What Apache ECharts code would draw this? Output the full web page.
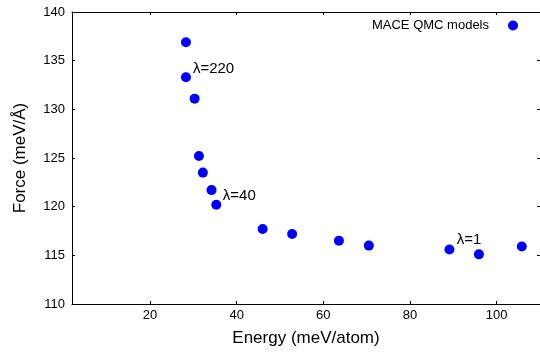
<!DOCTYPE html>
<html>
<head>
<meta charset="utf-8">
<script src="https://cdn.jsdelivr.net/npm/echarts@6/dist/echarts.min.js"></script>
<style>
  html, body { margin: 0; padding: 0; background: #fff; }
  #main { width: 540px; height: 352px; }
</style>
</head>
<body>
<div id="main"></div>
<script>
// energy (meV/atom) and force (meV/Å)
var energy = [28.3, 28.3, 30.3, 31.3, 32.2, 34.2, 35.3, 46.0, 52.8, 63.6, 70.5, 89.1, 95.9, 105.8];
var force  = [136.9, 133.3, 131.1, 125.2, 123.5, 121.7, 120.2, 117.7, 117.2, 116.5, 116.0, 115.6, 115.1, 115.9];

var xTicks = [20, 40, 60, 80, 100];
var yTicks = [110, 115, 120, 125, 130, 135, 140];

// annotations
var annotText = ['λ=220', 'λ=40', 'λ=1'];
var annotX = [29.9, 36.8, 90.8];
var annotY = [134.2, 121.15, 116.56];

var font = '"Liberation Sans", Arial, Helvetica, sans-serif';

var chartDom = document.getElementById('main');
var myChart = echarts.init(chartDom);

var pts = [];
for (var i = 0; i < energy.length; i++) {
  pts.push([energy[i], force[i]]);
}
var labels = [];
for (var j = 0; j < annotText.length; j++) {
  labels.push({ value: [annotX[j], annotY[j]], name: annotText[j] });
}

var tickStyle = { show: true, inside: true, length: 3, lineStyle: { color: '#000' } };
var lineStyle = { show: true, onZero: false, lineStyle: { color: '#000', width: 1 } };

var option = {
  animation: false,
  backgroundColor: '#fff',
  textStyle: { fontFamily: font },
  grid: { left: 72, top: 12, width: 469, height: 294 },
  legend: {
    data: ['MACE QMC models'],
    right: 17,
    top: 14,
    align: 'right',
    itemWidth: 10,
    itemHeight: 10,
    itemGap: 0,
    itemStyle: { opacity: 1 },
    textStyle: { fontFamily: font, fontSize: 13, color: '#000', padding: [0, 14, 0, 0] }
  },
  xAxis: [
    {
      type: 'value',
      min: 2,
      max: 110,
      name: 'Energy (meV/atom)',
      nameLocation: 'middle',
      nameGap: 26,
      nameTextStyle: { fontFamily: font, fontSize: 17, color: '#000' },
      axisLine: lineStyle,
      axisTick: Object.assign({ customValues: xTicks }, tickStyle),
      axisLabel: { customValues: xTicks, margin: 5, fontFamily: font, fontSize: 13, color: '#000' },
      splitLine: { show: false }
    },
    {
      type: 'value',
      position: 'top',
      min: 2,
      max: 110,
      axisLine: lineStyle,
      axisTick: Object.assign({ customValues: xTicks }, tickStyle),
      axisLabel: { show: false },
      splitLine: { show: false }
    }
  ],
  yAxis: [
    {
      type: 'value',
      min: 110,
      max: 140,
      interval: 5,
      name: 'Force (meV/Å)',
      nameLocation: 'middle',
      nameGap: 43,
      nameTextStyle: { fontFamily: font, fontSize: 17, color: '#000' },
      axisLine: lineStyle,
      axisTick: Object.assign({ customValues: yTicks }, tickStyle),
      axisLabel: { margin: 7, fontFamily: font, fontSize: 13, color: '#000' },
      splitLine: { show: false }
    },
    {
      type: 'value',
      position: 'right',
      min: 110,
      max: 140,
      interval: 5,
      axisLine: lineStyle,
      axisTick: Object.assign({ customValues: yTicks }, tickStyle),
      axisLabel: { show: false },
      splitLine: { show: false }
    }
  ],
  series: [
    {
      name: 'MACE QMC models',
      type: 'scatter',
      symbol: 'circle',
      symbolSize: 10,
      itemStyle: { color: '#0000ff', opacity: 1 },
      data: pts
    },
    {
      name: 'annotations',
      type: 'scatter',
      symbolSize: 0,
      silent: true,
      itemStyle: { opacity: 1 },
      label: {
        show: true,
        position: 'right',
        distance: 0,
        formatter: '{b}',
        fontFamily: font,
        fontSize: 15,
        color: '#000',
        opacity: 1
      },
      data: labels
    }
  ]
};

myChart.setOption(option);
</script>
</body>
</html>
